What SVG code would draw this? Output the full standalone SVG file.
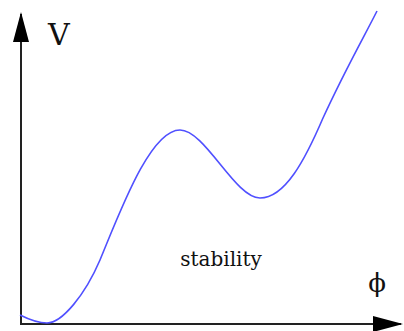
<svg xmlns="http://www.w3.org/2000/svg" width="404" height="331" viewBox="0 0 404 331">
<style>
.axis{stroke:#222;stroke-width:2;fill:none}
.curve{stroke:#5050ff;stroke-width:1.6;fill:none}
.lbl{font-family:"DejaVu Serif","Liberation Serif",serif;fill:#111}
</style>
<defs>
<marker id="ah" viewBox="0 0 30 16" refX="28" refY="8" markerWidth="30" markerHeight="16" markerUnits="userSpaceOnUse" orient="auto">
<path d="M0,0 L30,8 L0,16 Z" fill="#000"/>
</marker>
</defs>
<g id="axes">
<line class="axis" x1="21" y1="324" x2="21" y2="14" marker-end="url(#ah)"/>
<line class="axis" x1="20" y1="324" x2="401" y2="324" marker-end="url(#ah)"/>
</g>
<g id="curve">
<path class="curve" d="M20,315 C30,320 38,323 47,323 C62,323 85,295 100,260 C120,212 150,130 180,130 C205,130 235,198 260,198 C285,198 305,160 323,118 C345,70 365,35 377,11"/>
</g>
<g id="labels">
<text class="lbl" x="48" y="45" font-size="30">V</text>
<text class="lbl" x="377" y="292" font-size="26" text-anchor="middle">ϕ</text>
<text class="lbl" x="221" y="266" font-size="20" text-anchor="middle">stability</text>
</g>
</svg>
